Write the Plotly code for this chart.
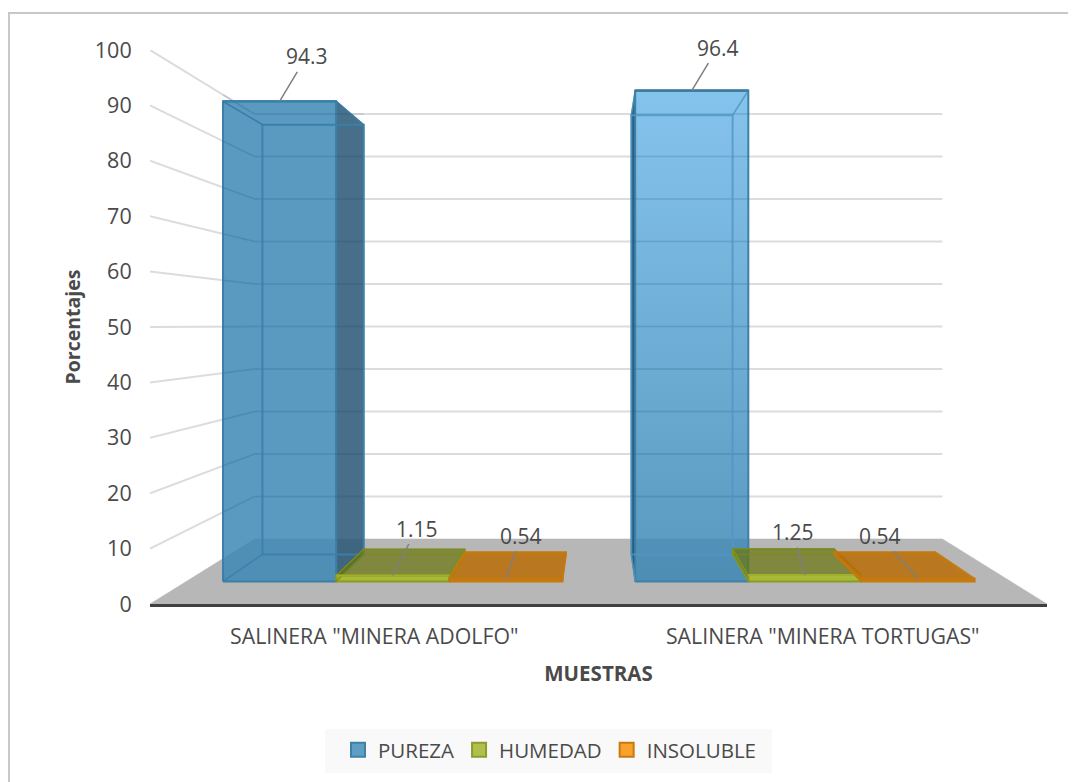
import plotly.graph_objects as go

CATEGORIES = ['SALINERA "MINERA ADOLFO"', 'SALINERA "MINERA TORTUGAS"']
SERIES = ["PUREZA", "HUMEDAD", "INSOLUBLE"]
PUREZA = [94.3, 96.4]
HUMEDAD = [1.15, 1.25]
INSOLUBLE = [0.54, 0.54]
VALUES = [PUREZA, HUMEDAD, INSOLUBLE]
Y_TICKS = list(range(0, 101, 10))
LABELS = [["94.3", "96.4"], ["1.15", "1.25"], ["0.54", "0.54"]]

# label offsets from the bar's front top edge, px
LABEL_DX = [[27, 26], [24, -12], [15, -38]]
LABEL_DY = [[-45, -43], [-47, -43], [-43, -43]]

# colours per series: front, side, top, edge, inner edge, top-front edge
STYLE = {
    "PUREZA": ("rgba(62,136,181,0.85)", "rgba(45,90,120,0.87)", "rgba(62,136,181,0.05)",
               "#3a7fa8", "rgba(58,127,168,0.9)", "#3a7fa8"),
    "PUREZA2": ("rgba(105,178,226,0.85)", "rgba(30,85,120,0.95)", "rgba(105,178,226,0.05)",
                "#3f80a6", "rgba(80,150,195,0.8)", "#3a7799"),
    "HUMEDAD": ("rgba(165,185,40,0.9)", "rgba(120,135,20,0.8)", "rgba(105,118,15,0.72)",
                "#8b9a22", "rgba(125,140,25,0.7)", "#a0b02a"),
    "INSOLUBLE": ("rgba(196,122,15,0.95)", "rgba(190,115,10,0.85)", "rgba(186,108,5,0.85)",
                  "#c47a0f", "rgba(196,122,15,0.7)", "#c47a0f"),
}
PUREZA2_GRADIENT = [[0, "rgba(59,134,179,0.85)"], [1, "rgba(112,185,233,0.85)"]]
LEGEND_STYLE = [("#5f9ec4", "#3f80a8"), ("#b0c04a", "#8e9b2f"), ("#f8a12b", "#c87a10")]

TEXT = "#4a4a4a"
FONT = "Open Sans"

# perspective of the 3-D box: depth 0 = front edge of the floor, 1 = back wall
K = 0.304
HORIZON = 50.4
VANISH_X = 1.0
D_FRONT, D_BACK = 0.29, 0.71
GAP, BAR_W = 0.089, 0.2745


def project(x, d, v):
    s = 1 / (1 + K * d)
    return VANISH_X + (x - VANISH_X) * s, HORIZON + (v - HORIZON) * s


def poly(points, fill, line, width=1.5, gradient=None):
    xs, ys = zip(*[project(*p) for p in points + points[:1]])
    kw = dict(fillgradient=dict(type="vertical", colorscale=gradient)) if gradient else dict(fillcolor=fill)
    return go.Scatter(
        x=xs, y=ys, mode="lines", fill="toself",
        line=dict(color=line, width=width), hoverinfo="skip", showlegend=False, **kw,
    )


def path(points, line, width=1.5):
    xs, ys = zip(*[project(*p) for p in points])
    return go.Scatter(x=xs, y=ys, mode="lines", line=dict(color=line, width=width),
                      hoverinfo="skip", showlegend=False)


def wall_line_across(t, x_left, x_right, color):
    """Gridline t as seen through a bar whose silhouette spans x_left..x_right."""
    x_s, y_s = project(0, 0, t)
    x_c, y_c = project(0, 1, t)
    xs, ys = [], []
    if x_left < x_c:
        xs.append(x_left)
        ys.append(y_s + (y_c - y_s) * (x_left - x_s) / (x_c - x_s))
        xs.append(x_c)
        ys.append(y_c)
    else:
        xs.append(x_left)
        ys.append(y_c)
    xs.append(x_right)
    ys.append(y_c)
    return go.Scatter(x=xs, y=ys, mode="lines", line=dict(color=color, width=1.5),
                      hoverinfo="skip", showlegend=False)


fig = go.Figure()

# floor
fig.add_trace(poly([(0, 0, 0), (2, 0, 0), (2, 1, 0), (0, 1, 0)], "#b7b7b7", "#b7b7b7", 0.5))

# wall gridlines
for t in Y_TICKS[1:]:
    fig.add_trace(path([(0, 0, t), (0, 1, t), (2, 1, t)], "#dcdcdc", 2))

# bars
annotations = []
for s_i, (name, vals) in enumerate(zip(SERIES, VALUES)):
    for c_i, v in enumerate(vals):
        key = "PUREZA2" if (name == "PUREZA" and c_i == 1) else name
        front, side, top, edge, inner_edge, top_edge = STYLE[key]
        x0 = c_i + GAP + BAR_W * s_i
        x1 = x0 + BAR_W
        a, b = D_FRONT, D_BACK
        tall = name == "PUREZA"
        # the face turned towards the vanishing point is the one seen from outside
        outer, inner = (x1, x0) if x1 <= VANISH_X + 0.01 else (x0, x1)
        fig.add_trace(poly([(outer, a, 0), (outer, b, 0), (outer, b, v), (outer, a, v)], side, top_edge, 1.2))
        fig.add_trace(poly([(x0, a, v), (x1, a, v), (x1, b, v), (x0, b, v)], top, inner_edge, 1.5))
        fig.add_trace(poly([(x0, a, 0), (x1, a, 0), (x1, a, v), (x0, a, v)], front, edge, 2,
                           gradient=PUREZA2_GRADIENT if key == "PUREZA2" else None))
        # wall gridlines show through the translucent bars as darker strokes
        if tall:
            xl = min(project(x0, a, 0)[0], project(x0, b, 0)[0])
            xr = max(project(x1, a, 0)[0], project(x1, b, 0)[0])
            for t in Y_TICKS[1:]:
                if project(0, 1, t)[1] < project(0, a, v)[1]:
                    fig.add_trace(wall_line_across(t, xl, xr, "rgba(40,90,125,0.16)"))
        # edges seen through the translucent front
        w = 2 if tall else 1.5
        fig.add_trace(path([(x0, b, 0), (x1, b, 0), (x1, b, v), (x0, b, v), (x0, b, 0)], inner_edge, w))
        fig.add_trace(path([(inner, a, 0), (inner, b, 0)], inner_edge))
        fig.add_trace(path([(inner, a, v), (inner, b, v)], inner_edge))
        fig.add_trace(path([(outer, a, 0), (outer, b, 0)], inner_edge))
        fig.add_trace(path([(x0, a, v), (x1, a, v)], top_edge, 2.2))
        ax, ay = project((x0 + x1) / 2, a, v)
        annotations.append(dict(
            x=ax, y=ay, xref="x", yref="y", text=LABELS[s_i][c_i], showarrow=True,
            arrowhead=0, arrowwidth=1.5, arrowcolor="#7f7f7f",
            ax=LABEL_DX[s_i][c_i], ay=LABEL_DY[s_i][c_i],
            font=dict(family=FONT, size=21, color=TEXT),
        ))

# legend entries
for name, (fill, line) in zip(SERIES, LEGEND_STYLE):
    fig.add_trace(go.Scatter(
        x=[None], y=[None], mode="markers", name=name,
        marker=dict(symbol="square", size=14, color=fill, line=dict(color=line, width=2)),
    ))

# The page adds an 8 px body margin, so the figure starts at (8, 8).
PLOT_W, PLOT_H = 897, 554


def px(x):
    return (x - 150) / PLOT_W


def py(y):
    return (604 - y) / PLOT_H


fig.update_layout(
    width=1068, height=774,
    margin=dict(l=142, r=29, t=42, b=178),
    paper_bgcolor="white", plot_bgcolor="white",
    font=dict(family=FONT, size=21, color=TEXT),
    annotations=annotations,
    showlegend=True,
    legend=dict(
        orientation="h", x=px(338), y=py(730), xanchor="left", yanchor="top",
        bgcolor="rgba(0,0,0,0)", font=dict(family=FONT, size=20.5, color=TEXT),
        itemwidth=30,
    ),
    shapes=[
        dict(type="rect", xref="paper", yref="paper",
             x0=px(9), x1=px(1100), y0=py(800), y1=py(13),
             line=dict(color="#c8c8c8", width=2), layer="below"),
        dict(type="rect", xref="paper", yref="paper",
             x0=px(325), x1=px(772), y0=py(773), y1=py(729),
             fillcolor="#f9f9f9", line=dict(width=0), layer="below"),
    ],
    xaxis=dict(
        range=[0, 2], tickvals=[0.5, 1.5], ticktext=CATEGORIES,
        showgrid=False, zeroline=False, showline=True, linecolor="#404040", linewidth=3,
        ticks="outside", ticklen=11, tickcolor="rgba(0,0,0,0)",
        tickfont=dict(family=FONT, size=21.3, color=TEXT),
        title=dict(text="<b>MUESTRAS</b>", font=dict(family=FONT, size=20.5, color=TEXT), standoff=19),
    ),
    yaxis=dict(
        range=[0, 100], tickvals=Y_TICKS,
        showgrid=False, zeroline=False, showline=False,
        ticks="outside", ticklen=13, tickcolor="rgba(0,0,0,0)",
        tickfont=dict(family=FONT, size=21.5, color=TEXT),
        title=dict(text="<b>Porcentajes</b>", font=dict(family=FONT, size=19.5, color=TEXT), standoff=8),
    ),
)

fig.write_html("out.html")
